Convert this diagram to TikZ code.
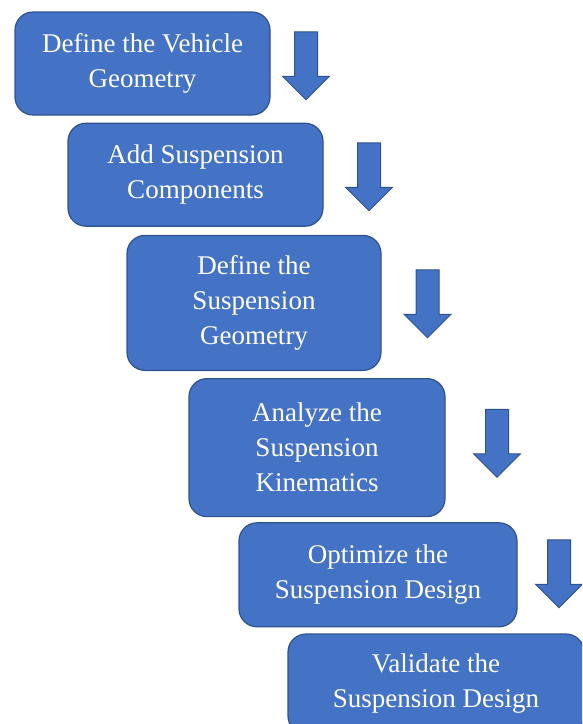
\documentclass[tikz,border=0pt]{standalone}
\usepackage{fontspec}
\setmainfont{Liberation Serif}
\usepackage{tikz}
\usetikzlibrary{shapes.arrows, positioning}
\definecolor{stagefill}{HTML}{4472C4}
\definecolor{stageline}{HTML}{2F528F}

\begin{document}
\begin{tikzpicture}[
    % one unit = one pixel of the page
    x=1pt, y=1pt,
    stage/.style={rectangle, draw=stageline, fill=stagefill, line width=1.2pt, rounded corners=18pt, text=white, align=center, inner sep=0pt, minimum width=255pt, minimum height=103pt, font=\fontsize{27}{35}\selectfont},
    downarrow/.style={single arrow, shape border rotate=270, draw=stageline, fill=stagefill, line width=1pt, inner sep=11pt, minimum height=68pt, minimum width=46pt, single arrow head extend=12pt, single arrow head indent=0pt}
]
    \useasboundingbox (0,0) rectangle (582,-724);
    \clip (0,0) rectangle (582,-724);

    % --- Stages of the design process ---
    \node[stage] (s1) at (142.5,-63.5) {Define the Vehicle\\Geometry};
    \node[stage, below=7pt of s1.south west, anchor=north west, xshift=53pt] (s2) {Add Suspension\\Components};
    \node[stage, below=8pt of s2.south west, anchor=north west, xshift=59pt, minimum width=254pt, minimum height=135pt] (s3) {Define the\\Suspension\\Geometry};
    \node[stage, below=7pt of s3.south west, anchor=north west, xshift=62pt, minimum width=256pt, minimum height=138pt] (s4) {Analyze the\\Suspension\\Kinematics};
    \node[stage, below=5pt of s4.south west, anchor=north west, xshift=50pt, minimum width=278pt, minimum height=104pt] (s5) {Optimize the\\Suspension Design};
    \node[stage, below=6pt of s5.south west, anchor=north west, xshift=49pt, minimum width=296pt, minimum height=100pt] (s6) {Validate the\\Suspension Design};

    % --- Block arrows beside each stage ---
    \node[downarrow] (a1) at (306,-60) {};
    \node[downarrow] (a2) at (369,-171) {};
    \node[downarrow] (a3) at (427.5,-298) {};
    \node[downarrow] (a4) at (497,-437.5) {};
    \node[downarrow] (a5) at (559,-568) {};
\end{tikzpicture}
\end{document}
